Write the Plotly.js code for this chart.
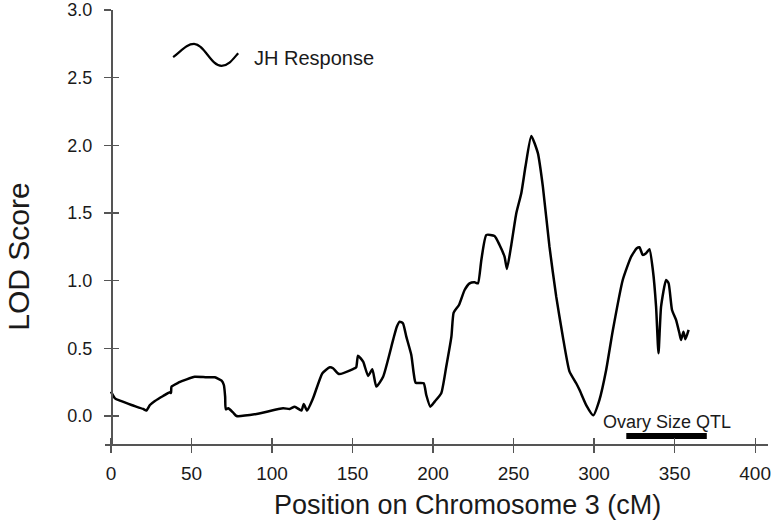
<!DOCTYPE html>
<html lang="en">
  <head>
    <meta charset="UTF-8" />
    <title>LOD Score</title>
    <script src="https://cdn.plot.ly/plotly-3.0.1.min.js"></script>
    <style>
      body { margin: 0; }
    </style>
  </head>
  <body>
    <div id="myDiv"></div>
    <script>
      // LOD profile along chromosome 3
      var pos = [
        0, 2.5, 5.6, 12.8, 20, 22, 24.2, 27.3, 32.4, 36.6, 37.3, 37.6, 41.8, 47,
        52, 59.4, 64.5, 68.7, 70.1, 70.9, 71.3, 72.8, 75.9, 78, 90.4, 106.9, 111,
        114.1, 118.3, 119.7, 121.8, 125.5, 131.3, 135.9, 137.9, 141.6, 150.3,
        152.3, 153.4, 156.6, 159.7, 162.3, 164.8, 169, 175.2, 177.5, 179.3,
        181.3, 183.4, 186.5, 188, 189.2, 194.2, 195.8, 198.3, 201, 205.1, 208.2,
        211.4, 212.8, 216.1, 219.6, 222.7, 225.8, 227.9, 230, 233.1, 238.2,
        241.3, 244.4, 245.9, 248.6, 251.7, 254.8, 257.4, 261, 265.1, 268.2,
        272.3, 276.5, 280.6, 284.7, 288.9, 291, 295.1, 299.5, 303.3, 307.5,
        311.6, 317.8, 323, 326.5, 328.2, 330.2, 332.3, 334.4, 336.5, 338.5, 340,
        341.6, 344.7, 346.3, 348.4, 350.9, 353, 354, 355.5, 356.7, 358.7
      ];
      var lod = [
        0.18, 0.13, 0.113, 0.081, 0.052, 0.04, 0.081, 0.111, 0.148, 0.175, 0.17,
        0.217, 0.246, 0.271, 0.29, 0.286, 0.286, 0.261, 0.229, 0.143, 0.05,
        0.057, 0.025, 0.0, 0.015, 0.057, 0.052, 0.069, 0.04, 0.089, 0.04, 0.131,
        0.316, 0.36, 0.353, 0.31, 0.347, 0.36, 0.446, 0.401, 0.296, 0.345,
        0.217, 0.29, 0.562, 0.66, 0.697, 0.685, 0.586, 0.451, 0.316, 0.246,
        0.242, 0.155, 0.069, 0.106, 0.168, 0.364, 0.586, 0.764, 0.82, 0.931,
        0.98, 0.988, 0.98, 1.153, 1.338, 1.33, 1.264, 1.177, 1.086, 1.264,
        1.498, 1.646, 1.843, 2.069, 1.942, 1.695, 1.251, 0.882, 0.586, 0.33,
        0.242, 0.192, 0.081, 0.005, 0.118, 0.34, 0.63, 1.005, 1.177, 1.239,
        1.247, 1.19, 1.202, 1.232, 1.079, 0.808, 0.463, 0.808, 1.005, 0.98,
        0.783, 0.71, 0.611, 0.562, 0.623, 0.567, 0.636
      ];

      // ovary size QTL interval
      var qtlStart = 320;
      var qtlEnd = 370;
      var qtlLevel = -0.148;

      var xTicks = [0, 50, 100, 150, 200, 250, 300, 350, 400];
      var yTicks = [0.0, 0.5, 1.0, 1.5, 2.0, 2.5, 3.0];

      var fontFam = "Arial, 'Liberation Sans', sans-serif";
      var axisCol = "#555555";

      var data = [
        {
          x: pos,
          y: lod,
          mode: "lines",
          line: { color: "#000000", width: 2.5, shape: "spline", smoothing: 0.5 },
          hoverinfo: "x+y",
        },
        {
          x: [qtlStart, qtlEnd],
          y: [qtlLevel, qtlLevel],
          mode: "lines",
          line: { color: "#000000", width: 6 },
          hoverinfo: "skip",
        },
        // empty trace so the tick-only overlay axes get drawn
        { x: [], y: [], xaxis: "x2", yaxis: "y2", mode: "lines", hoverinfo: "skip" },
      ];

      var xRange = [-3.7, 408];
      var yRange = [-0.207, 3.0];

      var layout = {
        width: 774,
        height: 531,
        margin: { l: 105, r: 6, t: 10, b: 87 },
        paper_bgcolor: "#ffffff",
        plot_bgcolor: "#ffffff",
        showlegend: false,
        font: { family: fontFam, color: "#1a1a1a" },
        xaxis: {
          range: xRange,
          tickvals: xTicks,
          ticks: "outside",
          ticklen: 7,
          tickwidth: 1.2,
          tickcolor: axisCol,
          showline: true,
          linecolor: axisCol,
          linewidth: 1.6,
          showgrid: false,
          zeroline: false,
          tickfont: { size: 19 },
          ticklabelstandoff: 5,
        },
        yaxis: {
          range: yRange,
          anchor: "free",
          position: 0.009,
          tickvals: yTicks,
          tickformat: ".1f",
          ticks: "outside",
          ticklen: 7,
          tickwidth: 1.2,
          tickcolor: axisCol,
          showline: true,
          linecolor: axisCol,
          linewidth: 1.6,
          showgrid: false,
          zeroline: false,
          tickfont: { size: 18 },
          ticklabelstandoff: 8,
        },
        xaxis2: {
          range: xRange,
          overlaying: "x",
          anchor: "y",
          tickvals: xTicks,
          ticks: "inside",
          ticklen: 6,
          tickwidth: 1.2,
          tickcolor: axisCol,
          showticklabels: false,
          showline: false,
          showgrid: false,
          zeroline: false,
        },
        yaxis2: {
          range: yRange,
          overlaying: "y",
          anchor: "free",
          position: 0.009,
          tickvals: yTicks,
          ticks: "inside",
          ticklen: 7,
          tickwidth: 1.2,
          tickcolor: axisCol,
          showticklabels: false,
          showline: false,
          showgrid: false,
          zeroline: false,
        },
        shapes: [
          // legend glyph: a little wave
          {
            type: "path",
            xref: "x",
            yref: "y",
            path:
              "M 38.6,2.651 C 44,2.70 47,2.749 51.6,2.749 C 58,2.749 62,2.587 68.7,2.587 C 73,2.587 76,2.64 79,2.681",
            line: { color: "#000000", width: 2.2 },
          },
        ],
        annotations: [
          {
            text: "JH Response",
            x: 87.5,
            y: 2.642,
            xref: "x",
            yref: "y",
            xanchor: "left",
            yanchor: "middle",
            showarrow: false,
            font: { size: 20 },
          },
          {
            text: "Ovary Size QTL",
            x: 345,
            y: -0.044,
            xref: "x",
            yref: "y",
            xanchor: "center",
            yanchor: "middle",
            showarrow: false,
            font: { size: 18 },
          },
          {
            text: "Position on Chromosome 3 (cM)",
            x: 0.5475,
            y: -0.14,
            xref: "paper",
            yref: "paper",
            xanchor: "center",
            yanchor: "middle",
            showarrow: false,
            font: { size: 27 },
          },
          {
            text: "LOD Score",
            x: -0.13,
            y: 0.431,
            xref: "paper",
            yref: "paper",
            xanchor: "center",
            yanchor: "middle",
            textangle: -90,
            showarrow: false,
            font: { size: 30 },
          },
        ],
      };

      Plotly.newPlot("myDiv", data, layout, { displayModeBar: false, staticPlot: true });
    </script>
  </body>
</html>
